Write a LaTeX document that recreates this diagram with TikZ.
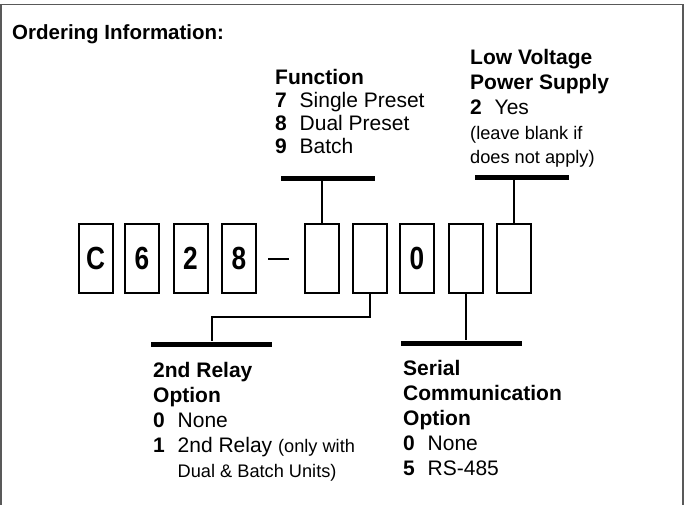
\documentclass[tikz,border=0pt]{standalone}
\usepackage{fontspec}
\setmainfont{Liberation Sans}
\usepackage{graphicx}
\usetikzlibrary{positioning}

\newcommand{\narrow}[1]{\scalebox{0.82}[1]{#1}}
\newcommand{\num}[1]{\makebox[24.5pt][l]{\bfseries #1}}
\newcommand{\aside}[1]{{\fontsize{18.2}{25}\selectfont #1}}

\begin{document}
\begin{tikzpicture}[x=1pt,y=-1pt,font=\fontsize{21}{25}\selectfont]
\tikzstyle{digit}=[draw,line width=2pt,minimum width=34pt,minimum height=69pt,inner sep=0pt,font=\fontsize{32}{32}\selectfont\bfseries]
\tikzstyle{bar}=[fill=black,minimum width=94pt,minimum height=5pt,inner sep=0pt]
\tikzstyle{info}=[align=left,anchor=north west,inner sep=0pt]
\tikzstyle{lead}=[line width=2pt]
\useasboundingbox (0,0) rectangle (684,504);
% frame (open at the bottom)
\draw[black!65,line width=1.5pt] (1,510) -- (1,4.5) -- (683,4.5) -- (683,510);
\node[anchor=base west,inner sep=0pt,font=\fontsize{20.5}{25}\selectfont\bfseries] (title) at (12,39) {Ordering Information:};
% part number boxes
\foreach \x/\d/\n in {95.5/C/pC,142/6/p6,190.5/2/p2,239/8/p8,322//pfunc,369.5//prelay,417/0/pzero,465.5//pserial,514//ppower}
  \node[digit] (\n) at (\x,258.5) {\narrow{\d}};
\draw[lead] ([xshift=11pt]p8.east) -- ([xshift=-15pt]pfunc.west);
% bars
\node[bar] (funcbar) at (328,178) {};
\node[bar] (powerbar) at (522,177) {};
\node[bar,minimum width=121pt] (relaybar) at (211.5,344) {};
\node[bar,minimum width=121pt] (serialbar) at (461.5,343) {};
% leads
\draw[lead] (pfunc.north) -- (pfunc.north |- funcbar.south);
\draw[lead] (ppower.north) -- (ppower.north |- powerbar.south);
\coordinate (relayknee) at (211.5,317);
\draw[lead] (prelay.south) |- (relayknee) -- (relaybar.north);
\draw[lead] (pserial.south) -- (pserial.south |- serialbar.north);
% option texts
\node[info] (function) at (275,69) {\textbf{Function}\\[-2pt]\num{7}Single Preset\\[-2pt]\num{8}Dual Preset\\[-2pt]\num{9}Batch};
\node[info] (power) at (470,49) {\textbf{Low Voltage}\\\textbf{Power Supply}\\\num{2}Yes\\\aside{(leave blank if}\\[-1pt]\aside{does not apply)}};
\node[info] (relay) at (153,362) {\textbf{2nd Relay}\\\textbf{Option}\\\num{0}None\\\num{1}2nd Relay \aside{(only with}\\\hspace*{24.5pt}\aside{Dual \& Batch Units)}};
\node[info] (serial) at (403,360) {\textbf{Serial}\\\textbf{Communication}\\\textbf{Option}\\\num{0}None\\\num{5}RS-485};
\end{tikzpicture}
\end{document}
